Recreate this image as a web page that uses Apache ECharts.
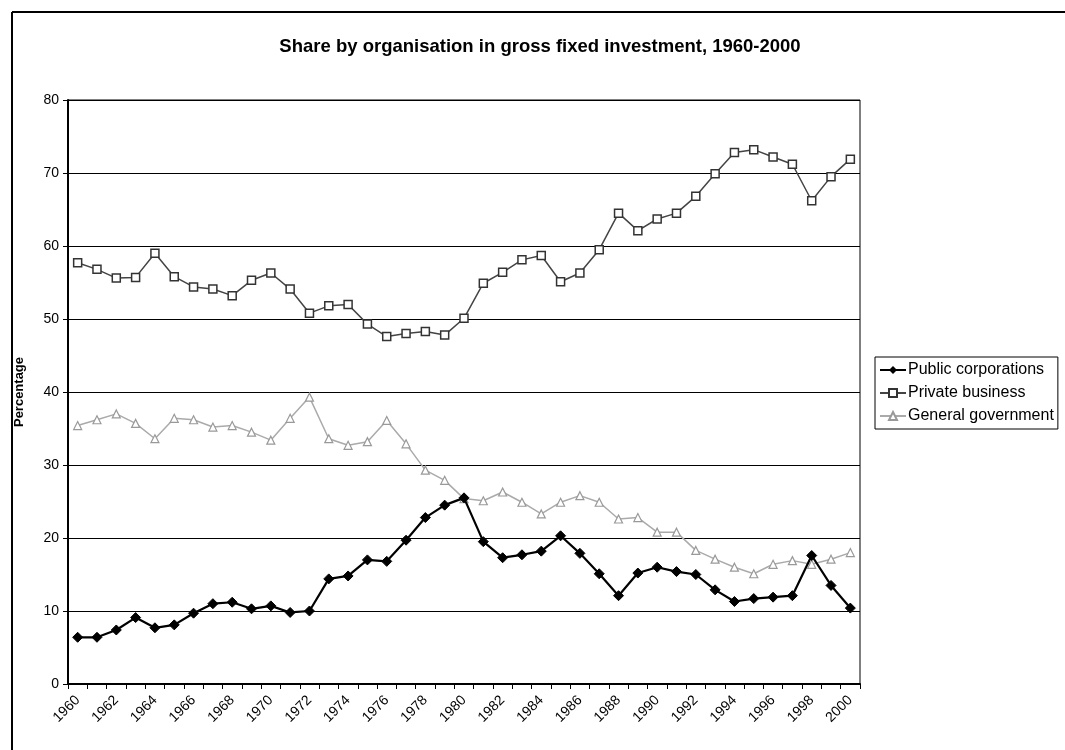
<!DOCTYPE html>
<html>
<head>
<meta charset="utf-8">
<script src="https://cdn.jsdelivr.net/npm/echarts@6/dist/echarts.min.js"></script>
<style>
html,body{margin:0;padding:0;background:#fff;}
#chart{width:1065px;height:750px;}
</style>
</head>
<body>
<div id="chart"></div>
<script>
const years = ['1960','1961','1962','1963','1964','1965','1966','1967','1968','1969',
  '1970','1971','1972','1973','1974','1975','1976','1977','1978','1979',
  '1980','1981','1982','1983','1984','1985','1986','1987','1988','1989',
  '1990','1991','1992','1993','1994','1995','1996','1997','1998','1999','2000'];

const publicCorporations = [6.4,6.4,7.4,9.1,7.7,8.1,9.7,11.0,11.2,10.3,
  10.7,9.8,10.0,14.4,14.8,17.0,16.8,19.7,22.8,24.5,
  25.5,19.5,17.3,17.7,18.2,20.3,17.9,15.1,12.1,15.2,
  16.0,15.4,15.0,12.9,11.3,11.7,11.9,12.1,17.6,13.5,10.4];

const privateBusiness = [57.7,56.8,55.6,55.7,59.0,55.8,54.4,54.1,53.2,55.3,
  56.3,54.1,50.8,51.8,52.0,49.3,47.6,48.0,48.3,47.8,
  50.1,54.9,56.4,58.1,58.7,55.1,56.3,59.5,64.5,62.1,
  63.7,64.5,66.8,69.9,72.8,73.2,72.2,71.2,66.2,69.5,71.9];

const generalGovernment = [35.4,36.2,37.0,35.7,33.6,36.4,36.2,35.2,35.4,34.5,
  33.4,36.4,39.3,33.6,32.7,33.2,36.1,32.9,29.3,27.9,
  25.4,25.1,26.3,24.9,23.3,24.9,25.8,24.9,22.6,22.8,
  20.8,20.8,18.3,17.1,16.0,15.1,16.4,16.9,16.4,17.1,18.0];

const yTicks = [0,10,20,30,40,50,60,70,80];

const font = '"Liberation Sans", Arial, sans-serif';
const chart = echarts.init(document.getElementById('chart'), null, {renderer:'canvas'});
chart.setOption({
  animation: false,
  backgroundColor: '#fff',
  title: {
    text: 'Share by organisation in gross fixed investment, 1960-2000',
    left: 535, top: 32, textAlign: 'center',
    textStyle: {fontFamily: font, fontSize: 18.5, fontWeight: 'bold', color: '#000'}
  },
  graphic: [
    {type:'line', shape:{x1:12,y1:12,x2:1065,y2:12}, style:{stroke:'#000', lineWidth:2}},
    {type:'line', shape:{x1:12,y1:12,x2:12,y2:750}, style:{stroke:'#000', lineWidth:2}}
  ],
  legend: {
    orient: 'vertical',
    left: 875, top: 357,
    padding: [5, 4, 5, 4],
    itemGap: 7,
    itemWidth: 26, itemHeight: 10,
    borderColor: '#000', borderWidth: 1,
    textStyle: {fontFamily: font, fontSize: 16, color: '#000', padding: [0,0,0,-3]},
    data: ['Public corporations','Private business','General government']
  },
  grid: {
    left: 68, right: 205, top: 100, bottom: 66,
    show: true, borderColor: '#000', borderWidth: 1, backgroundColor: '#fff'
  },
  xAxis: {
    type: 'category',
    data: years,
    boundaryGap: true,
    axisLine: {lineStyle: {color: '#000', width: 2}},
    axisTick: {show: true, interval: 0, length: 5, lineStyle: {color: '#000'}},
    axisLabel: {interval: 1, rotate: 45, fontFamily: font, fontSize: 14, color: '#000', margin: 14},
    splitLine: {show: false}
  },
  yAxis: {
    type: 'value',
    min: 0, max: 80, interval: 10,
    name: 'Percentage',
    nameLocation: 'middle', nameRotate: 90, nameGap: 42,
    nameTextStyle: {fontFamily: font, fontSize: 13, fontWeight: 'bold', color: '#000'},
    axisLine: {show: true, lineStyle: {color: '#000', width: 2}},
    axisTick: {show: true, length: 5, lineStyle: {color: '#000'}},
    axisLabel: {fontFamily: font, fontSize: 14, color: '#000', margin: 9,
      formatter: v => yTicks.includes(v) ? String(v) : ''},
    splitLine: {show: true, lineStyle: {color: '#000', width: 1.2}}
  },
  series: [
    {
      name: 'Public corporations', type: 'line', data: publicCorporations,
      symbol: 'diamond', symbolSize: 10,
      lineStyle: {color: '#000', width: 2.2},
      itemStyle: {color: '#000', borderColor: '#000'},
      z: 4
    },
    {
      name: 'Private business', type: 'line', data: privateBusiness,
      symbol: 'rect', symbolSize: 8,
      lineStyle: {color: '#444', width: 1.5},
      itemStyle: {color: '#fff', borderColor: '#333', borderWidth: 1.5},
      z: 3
    },
    {
      name: 'General government', type: 'line', data: generalGovernment,
      symbol: 'triangle', symbolSize: 8,
      lineStyle: {color: '#aaa', width: 1.5},
      itemStyle: {color: '#fff', borderColor: '#999', borderWidth: 1.2},
      z: 2
    }
  ]
});
</script>
</body>
</html>
